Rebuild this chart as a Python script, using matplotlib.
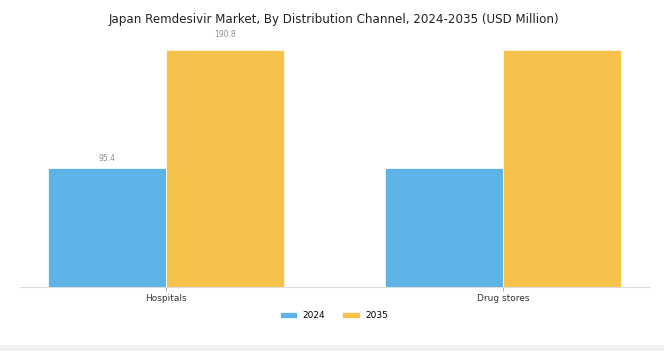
import matplotlib.pyplot as plt
import numpy as np
from matplotlib.patches import Rectangle

categories = ['Hospitals', 'Drug stores']
values_2024 = [95.4, 95.4]
values_2035 = [190.8, 190.8]
labels_2024 = ['95.4', '']
labels_2035 = ['190.8', '']

fig = plt.figure(figsize=(6.64, 3.51), dpi=100)
ax = fig.add_axes([0.030, 0.182, 0.949, 0.710])

x = np.arange(len(categories))
w = 0.35
b1 = ax.bar(x - w/2, values_2024, w, color='#5DB3E6', edgecolor='white', linewidth=0.5, label='2024')
b2 = ax.bar(x + w/2, values_2035, w, color='#F7C24A', edgecolor='white', linewidth=0.5, label='2035')

# label offsets (points) differ slightly in the original
for bars, labs, dy in ((b1, labels_2024, 4), (b2, labels_2035, 7.5)):
    for rect, lab in zip(bars, labs):
        if lab:
            ax.annotate(lab, (rect.get_x() + rect.get_width()/2, rect.get_height()),
                        xytext=(0, dy), textcoords='offset points',
                        ha='center', va='bottom', fontsize=5.5, color='#8f8f8f')

ax.set_xlim(-0.433, 1.436)
ax.set_ylim(0, 200.4)
ax.set_xticks(x)
ax.set_xticklabels(categories, fontsize=6.5, color='#333333')
ax.tick_params(axis='x', length=3, width=0.6, color='#999999', pad=2)
ax.set_yticks([])
for s in ['top', 'right', 'left']:
    ax.spines[s].set_visible(False)
ax.spines['bottom'].set_color('#dddddd')
ax.spines['bottom'].set_linewidth(0.8)

fig.suptitle('Japan Remdesivir Market, By Distribution Channel, 2024-2035 (USD Million)',
             x=0.503, y=0.962, fontsize=8.6, color='#222222')

fig.legend(loc='center', bbox_to_anchor=(0.503, 0.1), ncol=2, frameon=False, fontsize=6.5,
           handlelength=1.9, handleheight=0.6, columnspacing=1.9, handletextpad=0.65)

fig.patches.append(Rectangle((0, 0), 1, 0.017, transform=fig.transFigure,
                             facecolor='#efefef', edgecolor='none'))

fig.savefig('out.png', dpi=100)
